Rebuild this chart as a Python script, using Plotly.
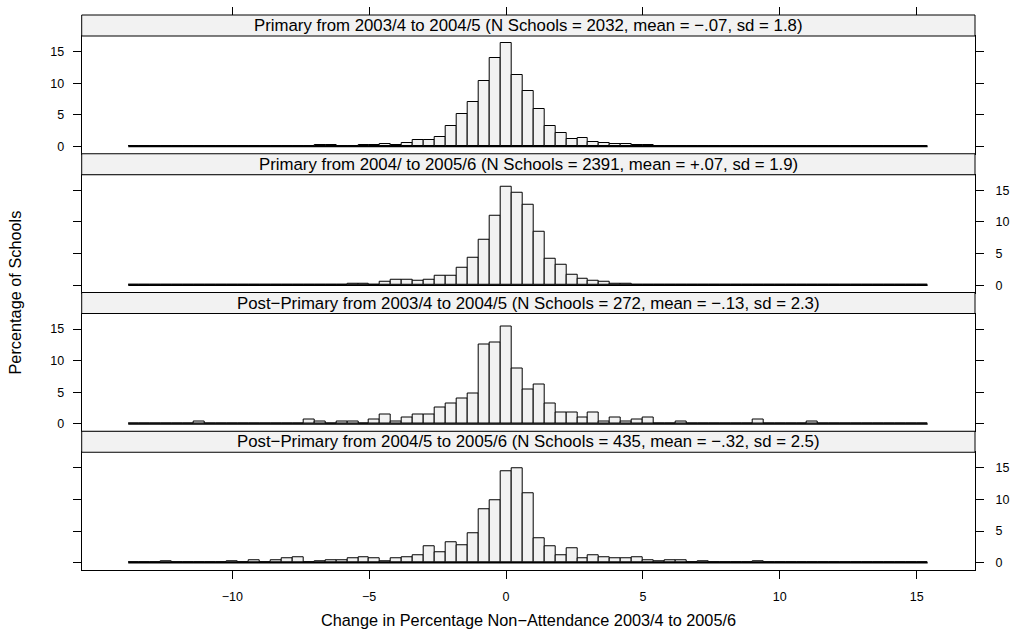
import plotly.graph_objects as go

# ---- data -------------------------------------------------------------
BIN_EDGE_FIRST = -13.8
BIN_WIDTH = 0.4
# bin centres -13.6 ... 15.2 (73 bins)
BIN_CENTERS = [round(BIN_EDGE_FIRST + BIN_WIDTH * (i + 0.5), 2) for i in range(73)]

P1_PCT = [0, 0, 0, 0, 0, 0, 0, 0, 0, 0,
          0, 0, 0, 0.05, 0, 0, 0, 0.2, 0.2, 0.05,
          0.15, 0.25, 0.25, 0.4, 0.3, 0.57, 1.1, 1.0, 1.52, 3.22,
          5.12, 7.07, 10.4, 14.05, 16.4, 11.3, 8.8, 5.9, 3.2, 2.06,
          1.2, 1.36, 0.68, 0.52, 0.36, 0.36, 0.25, 0.25, 0.15, 0.1,
          0.05, 0.05, 0.05, 0.05, 0.05, 0, 0.1, 0.05, 0, 0.05,
          0.05, 0.05, 0.05, 0, 0, 0.05, 0, 0, 0, 0.05,
          0, 0, 0]
P2_PCT = [0, 0, 0, 0, 0, 0.05, 0, 0, 0, 0,
          0.08, 0, 0.08, 0, 0, 0, 0, 0.15, 0.04, 0.05,
          0.3, 0.3, 0.15, 0.53, 0.79, 0.79, 0.63, 0.9, 1.42, 1.47,
          2.79, 4.37, 7.26, 11.0, 15.63, 14.6, 12.7, 8.37, 4.2, 3.3,
          1.68, 1.1, 0.63, 0.55, 0.3, 0.2, 0.15, 0.15, 0.1, 0.15,
          0.15, 0.1, 0.05, 0.05, 0.05, 0.05, 0.05, 0.1, 0.1, 0,
          0, 0, 0, 0, 0, 0, 0, 0, 0, 0,
          0, 0, 0]
P3_PCT = [0, 0, 0, 0, 0, 0, 0.37, 0, 0, 0,
          0, 0, 0, 0, 0, 0, 0.74, 0.37, 0, 0.37,
          0.37, 0, 0.74, 1.47, 0.37, 1.10, 1.47, 1.47, 2.57, 3.31,
          4.04, 4.78, 12.5, 12.87, 15.44, 8.82, 5.51, 6.25, 3.31, 1.84,
          1.84, 1.10, 1.84, 0.37, 1.10, 0.37, 0.74, 1.10, 0, 0,
          0.37, 0, 0, 0, 0, 0, 0, 0.74, 0, 0,
          0, 0, 0.37, 0, 0, 0, 0, 0, 0, 0,
          0, 0, 0]
P4_PCT = [0, 0, 0, 0.23, 0, 0, 0, 0, 0, 0.23,
          0, 0.46, 0, 0.46, 0.69, 0.92, 0, 0.23, 0.46, 0.46,
          0.69, 0.92, 0.69, 0.23, 0.69, 0.92, 1.15, 2.53, 1.61, 3.22,
          2.76, 4.6, 8.51, 9.89, 14.48, 14.94, 11.03, 3.91, 2.53, 1.15,
          2.3, 0.69, 1.15, 0.92, 0.69, 0.69, 0.92, 0.46, 0.23, 0.46,
          0.46, 0, 0.23, 0, 0, 0, 0, 0.23, 0, 0,
          0, 0, 0, 0, 0, 0, 0, 0, 0, 0,
          0, 0, 0]
PANEL_VALUES = [P1_PCT, P2_PCT, P3_PCT, P4_PCT]
STRIP_LABELS = [
    "Primary from 2003/4 to 2004/5 (N Schools = 2032, mean = \u2212.07, sd = 1.8)",
    "Primary from 2004/ to 2005/6 (N Schools = 2391, mean = +.07, sd = 1.9)",
    "Post\u2212Primary from 2003/4 to 2004/5 (N Schools = 272, mean = \u2212.13, sd = 2.3)",
    "Post\u2212Primary from 2004/5 to 2005/6 (N Schools = 435, mean = \u2212.32, sd = 2.5)",
]
X_TICKS = [-10, -5, 0, 5, 10, 15]
Y_TICKS = [0, 5, 10, 15]
X_TITLE = "Change in Percentage Non\u2212Attendance 2003/4 to 2005/6"
Y_TITLE = "Percentage of Schools"

# ---- layout geometry ----------------------------------------------------
W, H = 1013, 637
FONT = "Liberation Sans, Arial, sans-serif"
BAR_FILL = "#F2F2F2"
X_RANGE = [-15.5, 17.13]
Y_RANGE = [-1.15, 17.45]
LEFT_PX, RIGHT_PX = 81.7, 975.0
TOP_PX = 15.0
STRIP_H = 21.0
PANEL_H = 117.75


def py(p):
    return 1 - p / H


def px(p):
    return p / W


xdom = [px(LEFT_PX), px(RIGHT_PX)]
edges_lo = BIN_EDGE_FIRST
edges_hi = round(BIN_EDGE_FIRST + BIN_WIDTH * len(BIN_CENTERS), 2)

fig = go.Figure()
shapes = []
annotations = []
tickfont = dict(family=FONT, size=12.5, color="black")

for k in range(4):
    n = k + 1
    xa = "x" if n == 1 else f"x{n}"
    ya = "y" if n == 1 else f"y{n}"
    strip_top = TOP_PX + k * (STRIP_H + PANEL_H)
    strip_bot = strip_top + STRIP_H
    panel_bot = strip_bot + PANEL_H

    # baseline (zero-height bins are drawn as a line in lattice)
    fig.add_trace(go.Scatter(
        x=[edges_lo, edges_hi], y=[0, 0], mode="lines",
        line=dict(color="black", width=1.6),
        xaxis="x5" if n == 1 else xa, yaxis=ya,
        showlegend=False, hoverinfo="skip"))
    fig.add_trace(go.Bar(
        x=BIN_CENTERS, y=PANEL_VALUES[k], width=BIN_WIDTH,
        marker=dict(color=BAR_FILL, line=dict(color="black", width=1)),
        xaxis=xa, yaxis=ya, showlegend=False))

    fig.layout[f"xaxis{'' if n == 1 else n}"] = dict(
        domain=xdom, range=X_RANGE, anchor=ya,
        showline=True, mirror=True, linecolor="black", linewidth=1,
        showgrid=False, zeroline=False,
        ticks="outside" if n == 4 else "", ticklen=8, tickcolor="black",
        tickvals=X_TICKS, showticklabels=(n == 4),
        ticklabelstandoff=7,
        tickfont=tickfont,
    )
    left = n in (1, 3)
    fig.layout[f"yaxis{'' if n == 1 else n}"] = dict(
        domain=[py(panel_bot), py(strip_bot)], range=Y_RANGE, anchor=xa,
        side="left" if left else "right",
        showline=True, mirror="ticks", linecolor="black", linewidth=1,
        showgrid=False, zeroline=False,
        ticks="outside", ticklen=8, tickcolor="black",
        tickvals=Y_TICKS,
        ticklabelstandoff=6 if left else 9,
        tickfont=tickfont,
    )

    shapes.append(dict(type="rect", xref="paper", yref="paper",
                       x0=xdom[0], x1=xdom[1], y0=py(strip_bot), y1=py(strip_top),
                       fillcolor=BAR_FILL, line=dict(color="black", width=1),
                       layer="above"))
    annotations.append(dict(text=STRIP_LABELS[k], xref="paper", yref="paper",
                            x=(xdom[0] + xdom[1]) / 2, y=py((strip_top + strip_bot) / 2),
                            xanchor="center", yanchor="middle", showarrow=False,
                            font=dict(family=FONT, size=16.8, color="black")))

# top ticks above first strip
fig.layout["xaxis5"] = dict(
    overlaying="x", anchor="free", position=py(TOP_PX), side="top",
    range=X_RANGE, domain=xdom, showline=False, showgrid=False, zeroline=False,
    ticks="outside", ticklen=8, tickcolor="black", tickvals=X_TICKS,
    showticklabels=False,
)

annotations.append(dict(text=X_TITLE, xref="paper", yref="paper",
                        x=(xdom[0] + xdom[1]) / 2, y=py(620), xanchor="center",
                        yanchor="middle", showarrow=False,
                        font=dict(family=FONT, size=16.3, color="black")))
annotations.append(dict(text=Y_TITLE, xref="paper", yref="paper",
                        x=px(15), y=py(292.5), xanchor="center", yanchor="middle",
                        textangle=-90, showarrow=False,
                        font=dict(family=FONT, size=16.3, color="black")))

fig.update_layout(
    width=W, height=H, autosize=False,
    margin=dict(l=0, r=0, t=0, b=0),
    paper_bgcolor="white", plot_bgcolor="white",
    bargap=0, barmode="overlay",
    shapes=shapes, annotations=annotations,
    font=dict(family=FONT, color="black"),
)

fig.write_html(
    "out.html",
    config={"displayModeBar": False},
    post_script="document.body.style.margin='0';document.body.style.overflow='hidden';",
)
